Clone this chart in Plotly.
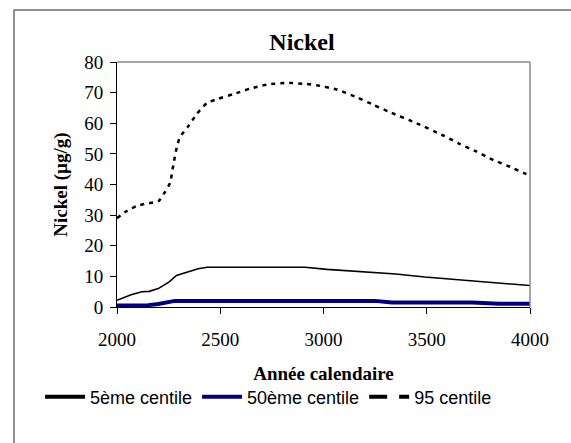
import plotly.graph_objects as go

# ---- data ----
years_p5 = [2000, 2068, 2121, 2156, 2200, 2253, 2288, 2332, 2393, 2437, 2911, 3017, 3192, 3350, 3491, 3631, 3754, 3877, 4000]
nickel_p5 = [2.2, 4.0, 5.0, 5.1, 6.0, 8.2, 10.3, 11.3, 12.5, 13.0, 13.0, 12.3, 11.4, 10.8, 9.8, 9.0, 8.4, 7.5, 7.0]

years_p50 = [2000, 2100, 2150, 2200, 2250, 2280, 3250, 3330, 3720, 3850, 4000]
nickel_p50 = [0.5, 0.5, 0.6, 1.0, 1.5, 2.0, 2.0, 1.5, 1.5, 1.1, 1.1]

years_p95 = [2000, 2040, 2095, 2145, 2200, 2232, 2257, 2273, 2289, 2305, 2345, 2386, 2434, 2490,
             2563, 2644, 2725, 2822, 2919, 2967, 3064, 3161, 3242, 3322, 3451, 3580, 3661, 3742,
             3822, 3903, 3968, 4000]
nickel_p95 = [29.0, 31.0, 33.0, 33.8, 34.5, 37.5, 40.5, 46.5, 52.0, 55.5, 59.0, 63.0, 66.5, 68.0,
              69.5, 71.3, 72.6, 73.2, 72.8, 72.4, 71.0, 68.5, 66.0, 63.6, 60.0, 56.0, 53.2, 50.7,
              48.0, 45.8, 43.8, 43.0]

series_names = ["5ème centile", "50ème centile", "95 centile"]
x_ticks = [2000, 2500, 3000, 3500, 4000]
y_ticks = [0, 10, 20, 30, 40, 50, 60, 70, 80]

NAVY = "#000080"
SERIF = "Liberation Serif"
SANS = "Liberation Sans"

fig = go.Figure()

# plotted series (legend shown through the entries below)
fig.add_trace(go.Scatter(x=years_p5, y=nickel_p5, mode="lines", name=series_names[0],
                         line=dict(color="black", width=1.6), showlegend=False, legendgroup="a"))
fig.add_trace(go.Scatter(x=years_p50, y=nickel_p50, mode="lines", name=series_names[1],
                         line=dict(color=NAVY, width=4), showlegend=False, legendgroup="b"))
fig.add_trace(go.Scatter(x=years_p95, y=nickel_p95, mode="lines", name=series_names[2],
                         line=dict(color="black", width=2.5, dash="4px,5px", shape="spline", smoothing=0.5),
                         showlegend=False, legendgroup="c"))

# legend entries
fig.add_trace(go.Scatter(x=[None], y=[None], mode="lines", name=series_names[0],
                         line=dict(color="black", width=4), legendgroup="a"))
fig.add_trace(go.Scatter(x=[None], y=[None], mode="lines", name=series_names[1],
                         line=dict(color=NAVY, width=4), legendgroup="b"))
fig.add_trace(go.Scatter(x=[None], y=[None], mode="lines", name=series_names[2],
                         line=dict(color="black", width=4, dash="18px,12px"), legendgroup="c"))

L, R, T, B = 117, 41, 62, 136
W, H = 571, 443
pw, ph = W - L - R, H - T - B

def px_x(px):
    return (px - L) / pw

def px_y(py):
    return (H - B - py) / ph

fig.update_layout(
    width=W, height=H,
    margin=dict(l=L, r=R, t=T, b=B, autoexpand=False),
    paper_bgcolor="white", plot_bgcolor="white",
    title=dict(text="Nickel", x=302 / W, xanchor="center", y=1 - 42 / H, yanchor="middle",
               xref="container", yref="container",
               font=dict(family=SERIF, size=24, color="black", weight="bold")),
    xaxis=dict(range=[2000, 4000], tickvals=x_ticks, ticks="outside", ticklen=6, tickcolor="black",
               showline=True, linecolor="black", linewidth=1, showgrid=False, zeroline=False,
               tickfont=dict(family=SERIF, size=19, color="black"), ticklabelstandoff=9,
               title=dict(text="Année calendaire", standoff=17,
                          font=dict(family=SERIF, size=19, color="black", weight="bold"))),
    yaxis=dict(range=[0, 80], tickvals=y_ticks, ticks="outside", ticklen=6, tickcolor="black",
               showline=True, linecolor="black", linewidth=1, showgrid=False, zeroline=False,
               tickfont=dict(family=SERIF, size=19, color="black"), ticklabelstandoff=3,
               title=dict(text="Nickel (µg/g)", standoff=11,
                          font=dict(family=SERIF, size=19, color="black", weight="bold"))),
    legend=dict(orientation="h", x=px_x(40), xanchor="left", y=px_y(397), yanchor="middle",
                font=dict(family=SANS, size=18, color="black"), itemwidth=40,
                bgcolor="rgba(0,0,0,0)", tracegroupgap=0),
    shapes=[
        # outer chart border (clipped at right/bottom as in the reference)
        dict(type="rect", xref="paper", yref="paper", x0=px_x(14), x1=px_x(W + 20),
             y0=px_y(H + 20), y1=px_y(10), line=dict(color="#222222", width=1), layer="below"),
        # plot frame top and right (gray)
        dict(type="line", xref="paper", yref="paper", x0=0, x1=1, y0=1, y1=1,
             line=dict(color="#888888", width=1.5)),
        dict(type="line", xref="paper", yref="paper", x0=1, x1=1, y0=0, y1=1,
             line=dict(color="#888888", width=1.5)),
    ],
)

fig.write_html("out.html", config={"displayModeBar": False},
               post_script="document.body.style.margin='0';document.body.style.overflow='hidden';")
